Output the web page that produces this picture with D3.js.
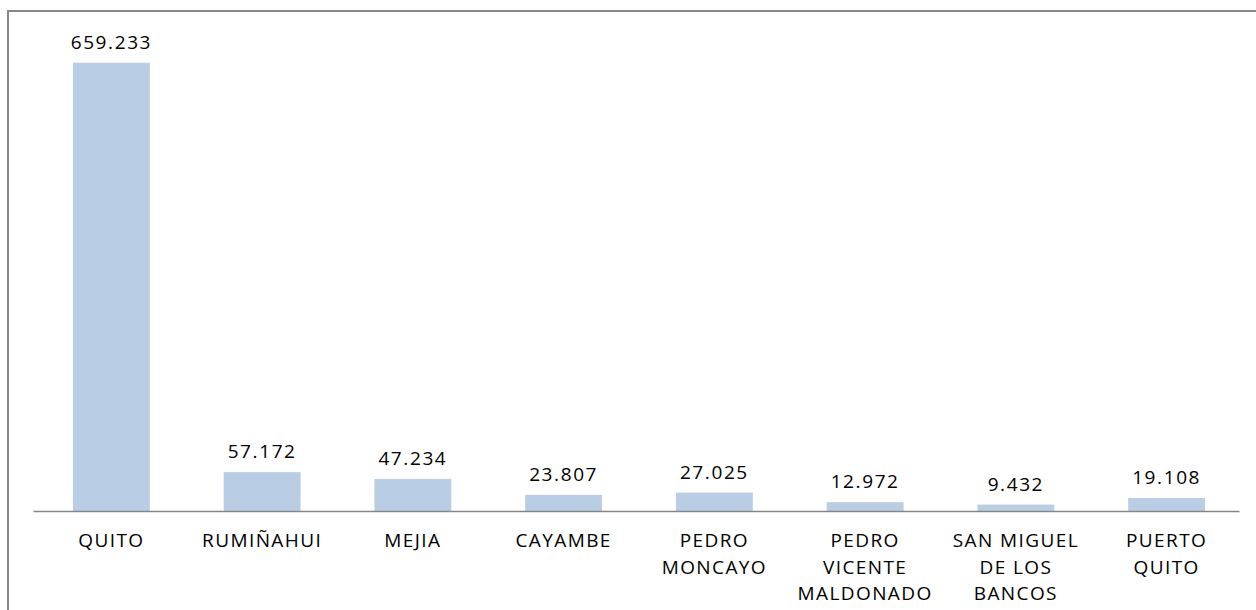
<!DOCTYPE html>
<html>
<head>
<meta charset="utf-8">
<script src="https://cdn.jsdelivr.net/npm/d3@7"></script>
<style>
  body { margin: 0; background: #fff; }
  text { font-family: "Open Sans", sans-serif; fill: #000; }
</style>
</head>
<body>
<div id="chart"></div>
<script>
window.onload = function() {

  // data
  var categories = ["QUITO", "RUMIÑAHUI", "MEJIA", "CAYAMBE", "PEDRO MONCAYO",
                    "PEDRO VICENTE MALDONADO", "SAN MIGUEL DE LOS BANCOS", "PUERTO QUITO"];
  var values = [659.233, 57.172, 47.234, 23.807, 27.025, 12.972, 9.432, 19.108];
  var valueLabels = ["659.233", "57.172", "47.234", "23.807", "27.025", "12.972", "9.432", "19.108"];
  var tickLabels = [["QUITO"], ["RUMIÑAHUI"], ["MEJIA"], ["CAYAMBE"], ["PEDRO", "MONCAYO"],
                    ["PEDRO", "VICENTE", "MALDONADO"], ["SAN MIGUEL", "DE LOS", "BANCOS"], ["PUERTO", "QUITO"]];

  var W = 1256, H = 610;
  var svg = d3.select("#chart")
    .append("svg")
      .attr("width", W)
      .attr("height", H);

  // outer frame (right and bottom edges run off the picture)
  svg.append("rect")
    .attr("x", 8).attr("y", 11)
    .attr("width", W + 20).attr("height", H + 20)
    .attr("fill", "none")
    .attr("stroke", "#878787")
    .attr("stroke-width", 2);

  var x = d3.scaleBand()
    .domain(categories)
    .range([36, 1242])
    .paddingInner(0.49)
    .paddingOuter(0.245);

  var y = d3.scaleLinear()
    .domain([0, 700])
    .range([511, 35]);

  // bars
  svg.append("g")
    .selectAll("rect")
    .data(values)
    .enter().append("rect")
      .attr("x", function(d, i) { return x(categories[i]); })
      .attr("y", function(d) { return y(d); })
      .attr("width", x.bandwidth())
      .attr("height", function(d) { return y(0) - y(d); })
      .attr("fill", "#B9CDE5");

  // value labels
  svg.append("g")
    .selectAll("text")
    .data(values)
    .enter().append("text")
      .attr("x", function(d, i) { return x(categories[i]) + x.bandwidth() / 2; })
      .attr("y", function(d) { return y(d) - 14; })
      .attr("text-anchor", "middle")
      .style("font-size", "19px")
      .style("letter-spacing", "1.6px")
      .text(function(d, i) { return valueLabels[i]; });

  // x axis
  var axis = svg.append("g")
    .attr("transform", "translate(-3," + y(0) + ")")
    .call(d3.axisBottom(x).tickSize(0).tickSizeOuter(0).tickFormat(""));
  axis.select(".domain").attr("stroke", "#868686").attr("stroke-width", 1.3);

  var lbl = svg.append("g")
    .selectAll("text")
    .data(categories)
    .enter().append("text")
      .attr("x", function(d) { return x(d) + x.bandwidth() / 2; })
      .attr("y", 547)
      .attr("text-anchor", "middle")
      .style("font-size", "19px")
      .style("letter-spacing", "1.4px");

  lbl.each(function(d, i) {
    var t = d3.select(this);
    tickLabels[i].forEach(function(line, j) {
      t.append("tspan")
        .attr("x", x(d) + x.bandwidth() / 2)
        .attr("dy", j === 0 ? 0 : 26.5)
        .text(line);
    });
  });
}
</script>
</body>
</html>
